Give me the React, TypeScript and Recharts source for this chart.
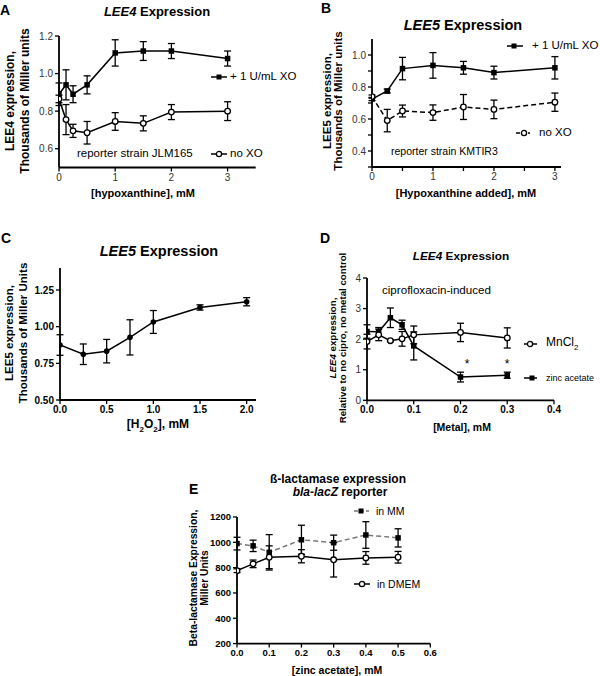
import React from 'react'
import { LineChart, Line, XAxis, YAxis, ErrorBar } from 'recharts'

const FONT = '"Liberation Sans", Arial, Helvetica, sans-serif'

// A: LEE4, hypoxanthine
const aX = [0, 0.125, 0.25, 0.5, 1, 1.5, 2, 3]
const aXO = [0.89, 0.94, 0.89, 0.94, 1.11, 1.12, 1.12, 1.08]
const aXOErr = [0.06, 0.08, 0.045, 0.048, 0.07, 0.05, 0.04, 0.04]
const aNoXO = [0.865, 0.755, 0.695, 0.685, 0.745, 0.735, 0.795, 0.8]
const aNoXOErr = [0.02, 0.08, 0.035, 0.06, 0.047, 0.04, 0.04, 0.05]

// B: LEE5, hypoxanthine added
const bX = [0, 0.25, 0.5, 1, 1.5, 2, 3]
const bXO = [0.725, 0.775, 0.915, 0.935, 0.92, 0.89, 0.92]
const bXOErr = [0.01, 0.012, 0.07, 0.08, 0.04, 0.04, 0.07]
const bNoXO = [0.74, 0.59, 0.65, 0.64, 0.675, 0.66, 0.705]
const bNoXOErr = [0.01, 0.07, 0.037, 0.048, 0.078, 0.058, 0.057]

// C: LEE5, H2O2
const cX = [0, 0.25, 0.5, 0.75, 1.0, 1.5, 2.0]
const cY = [0.875, 0.812, 0.833, 0.927, 1.032, 1.131, 1.17]
const cErr = [0.07, 0.07, 0.08, 0.12, 0.078, 0.018, 0.028]

// D: LEE4, metal
const dX = [0, 0.025, 0.05, 0.075, 0.1, 0.2, 0.3]
const dMn = [1.92, 2.14, 1.95, 2.01, 2.14, 2.22, 2.04]
const dMnErr = [0.24, 0.19, 0.03, 0.24, 0.29, 0.3, 0.33]
const dZn = [2.25, 2.24, 2.7, 2.47, 1.78, 0.76, 0.82]
const dZnErr = [0.22, 0.14, 0.32, 0.15, 0.46, 0.16, 0.1]

// E: beta-lactamase, zinc acetate
const eX = [0, 0.05, 0.1, 0.2, 0.3, 0.4, 0.5]
const eMM = [990, 972, 921, 1020, 997, 1058, 1035]
const eMMErr = [50, 45, 140, 115, 60, 105, 72]
const eDMEM = [776, 830, 882, 890, 862, 877, 882]
const eDMEMErr = [15, 30, 90, 52, 136, 50, 46]

const aData = aX.map((x, i) => ({ x, s1: aXO[i], e1: aXOErr[i], s2: aNoXO[i], e2: aNoXOErr[i] }))
const bData = bX.map((x, i) => ({ x, s1: bXO[i], e1: bXOErr[i], s2: bNoXO[i], e2: bNoXOErr[i] }))
const cData = cX.map((x, i) => ({ x, s1: cY[i], e1: cErr[i] }))
const dData = dX.map((x, i) => ({ x, s1: dZn[i], e1: dZnErr[i], s2: dMn[i], e2: dMnErr[i] }))
const eData = eX.map((x, i) => ({ x, s1: eMM[i], e1: eMMErr[i], s2: eDMEM[i], e2: eDMEMErr[i] }))

const squareDot = (size: number) => (props: any) => {
  const { cx, cy, index } = props
  if (cx == null || cy == null) return <g key={`sq${index}`} />
  return <rect key={`sq${index}`} x={cx - size / 2} y={cy - size / 2} width={size} height={size} fill="#000" />
}
const openDot = (r: number) => (props: any) => {
  const { cx, cy, index } = props
  if (cx == null || cy == null) return <g key={`oc${index}`} />
  return <circle key={`oc${index}`} cx={cx} cy={cy} r={r} fill="#fff" stroke="#000" strokeWidth={1.3} />
}
const filledDot = (r: number) => (props: any) => {
  const { cx, cy, index } = props
  if (cx == null || cy == null) return <g key={`fc${index}`} />
  return <circle key={`fc${index}`} cx={cx} cy={cy} r={r} fill="#000" />
}

type Series = { key: string; err: string; stroke: string; dash?: string; dot: any }

const YW = 40
const MT = 8
const MR = 8
const XH = 26

function Panel(p: {
  left: number
  top: number
  w: number
  h: number
  data: any[]
  xDomain: [number, number]
  yDomain: [number, number]
  xTicks: number[]
  yTicks: number[]
  xFmt?: (v: number) => string
  yFmt?: (v: number) => string
  xTick: any
  yTick: any
  series: Series[]
}) {
  const axisLine = { stroke: '#000', strokeWidth: 1.8 }
  const tickLine = { stroke: '#000', strokeWidth: 1.3 }
  return (
    <div style={{ position: 'absolute', left: p.left - YW, top: p.top - MT }}>
      <LineChart
        width={YW + p.w + MR}
        height={MT + p.h + XH}
        data={p.data}
        margin={{ top: MT, right: MR, bottom: 0, left: 0 }}
      >
        <XAxis
          type="number"
          dataKey="x"
          domain={p.xDomain}
          ticks={p.xTicks}
          tickFormatter={p.xFmt}
          interval={0}
          allowDataOverflow
          height={XH}
          axisLine={axisLine}
          tickLine={tickLine}
          tickSize={4}
          tick={p.xTick}
        />
        <YAxis
          type="number"
          domain={p.yDomain}
          ticks={p.yTicks}
          tickFormatter={p.yFmt}
          interval={0}
          allowDataOverflow
          width={YW}
          axisLine={axisLine}
          tickLine={tickLine}
          tickSize={4}
          tick={p.yTick}
        />
        {p.series.map((s) => (
          <Line
            key={s.key}
            dataKey={s.key}
            type="linear"
            stroke={s.stroke}
            strokeWidth={1.5}
            strokeDasharray={s.dash}
            dot={s.dot}
            activeDot={false}
            isAnimationActive={false}
          >
            <ErrorBar dataKey={s.err} width={3.5} stroke="#000" strokeWidth={1.3} direction="y" />
          </Line>
        ))}
      </LineChart>
    </div>
  )
}

function T(props: {
  x: number
  y: number
  size: number
  bold?: boolean
  italic?: boolean
  center?: boolean
  color?: string
  children: React.ReactNode
}) {
  return (
    <div
      style={{
        position: 'absolute',
        left: props.x,
        top: props.y,
        transform: `translate(${props.center ? '-50%' : '0'}, -50%)`,
        fontSize: props.size,
        fontWeight: props.bold ? 'bold' : 'normal',
        fontStyle: props.italic ? 'italic' : 'normal',
        color: props.color || '#000',
        whiteSpace: 'nowrap',
        lineHeight: 1,
      }}
    >
      {props.children}
    </div>
  )
}

function VLabel(props: { x: number; y: number; size: number; lh: number; children: React.ReactNode }) {
  return (
    <div
      style={{
        position: 'absolute',
        left: props.x,
        top: props.y,
        transform: 'translate(-50%, -50%) rotate(-90deg)',
        fontSize: props.size,
        fontWeight: 'bold',
        whiteSpace: 'nowrap',
        lineHeight: `${props.lh}px`,
        textAlign: 'center',
      }}
    >
      {props.children}
    </div>
  )
}

function Key(props: { x1: number; x2: number; y: number; mx: number; marker: 'sq' | 'oc'; dash?: string; stroke?: string }) {
  const w = props.x2 - props.x1
  return (
    <svg style={{ position: 'absolute', left: props.x1, top: props.y - 6 }} width={w} height={12}>
      <line x1={0} x2={w} y1={6} y2={6} stroke={props.stroke || '#000'} strokeWidth={1.5} strokeDasharray={props.dash} />
      {props.marker === 'sq' ? (
        <rect x={props.mx - props.x1 - 2.5} y={3.5} width={5} height={5} fill="#000" />
      ) : (
        <circle cx={props.mx - props.x1} cy={6} r={2.6} fill="#fff" stroke="#000" strokeWidth={1.3} />
      )}
    </svg>
  )
}

const f1 = (v: number) => v.toFixed(1)
const f2 = (v: number) => v.toFixed(2)
const regTick = { fontSize: 10, fill: '#333', fontFamily: FONT }
const boldTick = { fontSize: 10, fill: '#000', fontWeight: 'bold', fontFamily: FONT }
const eTick = { fontSize: 9.5, fill: '#000', fontWeight: 'bold', fontFamily: FONT }

export default function App() {
  return (
    <div
      style={{
        position: 'absolute',
        left: 0,
        top: 0,
        width: 600,
        height: 676,
        background: '#fff',
        overflow: 'hidden',
        fontFamily: FONT,
      }}
    >
      {/* A */}
      <Panel
        left={59.3}
        top={36}
        w={196.7}
        h={131.5}
        data={aData}
        xDomain={[0, 3.5]}
        yDomain={[0.5, 1.2]}
        xTicks={[0, 1, 2, 3]}
        yTicks={[0.6, 0.8, 1.0, 1.2]}
        yFmt={f1}
        xTick={regTick}
        yTick={regTick}
        series={[
          { key: 's1', err: 'e1', stroke: '#000', dot: squareDot(5.5) },
          { key: 's2', err: 'e2', stroke: '#000', dot: openDot(2.8) },
        ]}
      />
      <T x={0} y={10} size={14} bold>A</T>
      <T x={157} y={11} size={13} bold center>
        <i>LEE4</i> Expression
      </T>
      <VLabel x={18} y={101} size={12} lh={15}>
        LEE4 expression,
        <br />
        Thousands of Miller units
      </VLabel>
      <T x={143} y={193} size={11} bold center>[hypoxanthine], mM</T>
      <Key x1={211} x2={227} y={77} mx={219} marker="sq" />
      <T x={230} y={77} size={11.5}>+ 1 U/mL XO</T>
      <Key x1={211} x2={227} y={154} mx={219} marker="oc" />
      <T x={230} y={154} size={11.5}>no XO</T>
      <T x={77} y={154} size={11.5}>reporter strain JLM165</T>

      {/* B */}
      <Panel
        left={372}
        top={39.3}
        w={189}
        h={128}
        data={bData}
        xDomain={[0, 3.1]}
        yDomain={[0.3, 1.1]}
        xTicks={[0, 0.5, 1, 1.5, 2, 2.5, 3]}
        yTicks={[0.3, 0.4, 0.5, 0.6, 0.7, 0.8, 0.9, 1.0]}
        xFmt={(v) => (Number.isInteger(v) ? String(v) : '')}
        yFmt={(v) => (Math.round(v * 10) % 2 === 0 ? v.toFixed(1) : '')}
        xTick={regTick}
        yTick={regTick}
        series={[
          { key: 's1', err: 'e1', stroke: '#000', dot: squareDot(5.5) },
          { key: 's2', err: 'e2', stroke: '#000', dash: '5 3', dot: openDot(2.8) },
        ]}
      />
      <T x={321} y={8} size={14} bold>B</T>
      <T x={463} y={25} size={14.5} bold center>
        <i>LEE5</i> Expression
      </T>
      <VLabel x={333} y={101} size={11.5} lh={11}>
        LEE5 expression,
        <br />
        Thousands of Miller units
      </VLabel>
      <T x={466} y={193} size={11} bold center>[Hypoxanthine added], mM</T>
      <Key x1={507} x2={523} y={46} mx={514} marker="sq" />
      <T x={532} y={46} size={11.5}>+ 1 U/mL XO</T>
      <Key x1={516} x2={530} y={133} mx={524} marker="oc" dash="4 2" />
      <T x={539} y={133} size={11.5}>no XO</T>
      <T x={391} y={151} size={10.5}>reporter strain KMTIR3</T>

      {/* C */}
      <Panel
        left={60}
        top={268.3}
        w={196}
        h={132}
        data={cData}
        xDomain={[0, 2.1]}
        yDomain={[0.5, 1.4]}
        xTicks={[0, 0.5, 1.0, 1.5, 2.0]}
        yTicks={[0.5, 0.75, 1.0, 1.25]}
        xFmt={f1}
        yFmt={f2}
        xTick={boldTick}
        yTick={boldTick}
        series={[{ key: 's1', err: 'e1', stroke: '#000', dot: filledDot(2.8) }]}
      />
      <T x={1} y={238} size={14} bold>C</T>
      <T x={159} y={251} size={14.5} bold center>
        <i>LEE5</i> Expression
      </T>
      <VLabel x={16} y={333} size={11.5} lh={13.5}>
        LEE5 expression,
        <br />
        Thousands of Miller Units
      </VLabel>
      <T x={158} y={426} size={12} bold center>
        [H<sub style={{ fontSize: 8 }}>2</sub>O<sub style={{ fontSize: 8 }}>2</sub>], mM
      </T>

      {/* D */}
      <Panel
        left={367.3}
        top={277.7}
        w={187}
        h={122.3}
        data={dData}
        xDomain={[0, 0.4]}
        yDomain={[0, 4]}
        xTicks={[0, 0.1, 0.2, 0.3, 0.4]}
        yTicks={[0, 1, 2, 3, 4]}
        xFmt={f1}
        xTick={boldTick}
        yTick={regTick}
        series={[
          { key: 's1', err: 'e1', stroke: '#000', dot: squareDot(5.5) },
          { key: 's2', err: 'e2', stroke: '#000', dot: openDot(2.8) },
        ]}
      />
      <T x={320} y={238} size={14} bold>D</T>
      <T x={461} y={257} size={11.8} bold center>
        <i>LEE4</i> Expression
      </T>
      <VLabel x={337.5} y={338} size={9.7} lh={10.2}>
        <i>LEE4</i> expression,
        <br />
        Relative to no cipro, no metal control
      </VLabel>
      <T x={462} y={427} size={10.5} bold center>[Metal], mM</T>
      <T x={382} y={290} size={11.6}>ciprofloxacin-induced</T>
      <Key x1={524} x2={537} y={344} mx={530} marker="oc" />
      <T x={546} y={344} size={12}>
        MnCl<sub style={{ fontSize: 8 }}>2</sub>
      </T>
      <Key x1={524} x2={537} y={378} mx={532} marker="sq" />
      <T x={546} y={378} size={9}>zinc acetate</T>
      <T x={467} y={364} size={12} center>*</T>
      <T x={507} y={364} size={12} center>*</T>

      {/* E */}
      <Panel
        left={237.3}
        top={516.7}
        w={193.3}
        h={126.6}
        data={eData}
        xDomain={[0, 0.6]}
        yDomain={[200, 1200]}
        xTicks={[0, 0.1, 0.2, 0.3, 0.4, 0.5, 0.6]}
        yTicks={[200, 400, 600, 800, 1000, 1200]}
        xFmt={f1}
        xTick={eTick}
        yTick={eTick}
        series={[
          { key: 's1', err: 'e1', stroke: '#777', dash: '5 3', dot: squareDot(5.5) },
          { key: 's2', err: 'e2', stroke: '#000', dot: openDot(2.8) },
        ]}
      />
      <T x={189} y={489} size={14} bold>E</T>
      <T x={338} y={479} size={12} bold center>ß-lactamase expression</T>
      <T x={340} y={492} size={12} bold center>
        <i>bla-lacZ</i> reporter
      </T>
      <VLabel x={199} y={578} size={10.3} lh={11.2}>
        Beta-lactamase Expression,
        <br />
        Miller Units
      </VLabel>
      <T x={337} y={670} size={10.5} bold center>[zinc acetate], mM</T>
      <Key x1={354} x2={369} y={511} mx={361} marker="sq" dash="4 2" stroke="#777" />
      <T x={376} y={511} size={10.5}>in MM</T>
      <Key x1={354} x2={370} y={584} mx={362} marker="oc" />
      <T x={377} y={584} size={10.5}>in DMEM</T>
    </div>
  )
}
